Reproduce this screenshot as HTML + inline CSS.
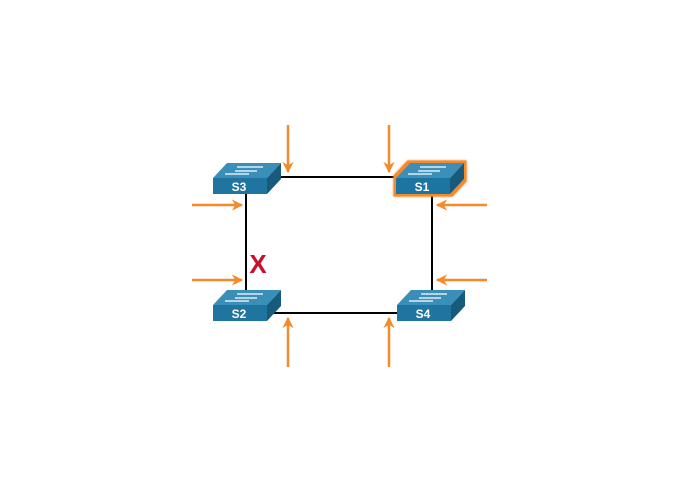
<!DOCTYPE html>
<html><head><meta charset="utf-8"><style>
html,body{margin:0;padding:0;background:#fff;}
svg{display:block;}
text{font-family:"Liberation Sans",sans-serif;font-weight:bold;}
</style></head><body>
<svg width="680" height="490" viewBox="0 0 680 490">
<defs>
<marker id="ah" viewBox="0 0 10 10" refX="9" refY="5" markerWidth="4.5" markerHeight="4.5" orient="auto-start-reverse">
<path d="M0,0 L10,5 L0,10 L3,5 Z" fill="#f58a2b"/>
</marker>
<filter id="glow" x="-30%" y="-50%" width="160%" height="200%">
<feMorphology in="SourceAlpha" operator="dilate" radius="2.5" result="d"/>
<feFlood flood-color="#f58a2b"/><feComposite in2="d" operator="in" result="o"/>
<feGaussianBlur in="o" stdDeviation="1" result="b"/>
<feMerge><feMergeNode in="b"/><feMergeNode in="o"/><feMergeNode in="SourceGraphic"/></feMerge>
</filter>
<g id="sw">
<polygon points="0,15 14,0 68,0 54,15" fill="#3a8fb8"/>
<rect x="0" y="15" width="54" height="16" fill="#1f75a0"/>
<polygon points="54,15 68,0 68,16 54,31" fill="#175a7c"/>
<g stroke="#fff" stroke-width="1.3" fill="none">
<path d="M24,4 H50 M22,8 H44 M12,11 H36"/>
</g>
</g>
</defs>
<g stroke="#000" stroke-width="2">
<line x1="280" y1="177" x2="397" y2="177"/>
<line x1="246" y1="193" x2="246" y2="291"/>
<line x1="432" y1="193" x2="432" y2="291"/>
<line x1="266" y1="313" x2="398" y2="313"/>
</g>
<g stroke="#f58a2b" stroke-width="2.5" marker-end="url(#ah)">
<line x1="288" y1="125" x2="288" y2="172"/>
<line x1="389" y1="125" x2="389" y2="172"/>
<line x1="192" y1="205" x2="242" y2="205"/>
<line x1="192" y1="280" x2="242" y2="280"/>
<line x1="487" y1="205" x2="437" y2="205"/>
<line x1="487" y1="280" x2="437" y2="280"/>
<line x1="288" y1="367" x2="288" y2="318"/>
<line x1="389" y1="367" x2="389" y2="318"/>
</g>
<g><use href="#sw" x="213" y="163"/><text x="239" y="191" fill="#fff" font-size="12" text-anchor="middle">S3</text></g>
<g><g filter="url(#glow)"><use href="#sw" x="396" y="163"/></g><text x="422" y="191" fill="#fff" font-size="12" text-anchor="middle">S1</text></g>
<g><use href="#sw" x="213" y="290"/><text x="239" y="318" fill="#fff" font-size="12" text-anchor="middle">S2</text></g>
<g><use href="#sw" x="397" y="290"/><text x="423" y="318" fill="#fff" font-size="12" text-anchor="middle">S4</text></g>
<text x="258" y="273" fill="#c8102e" font-size="26" text-anchor="middle">X</text>
</svg>
</body></html>
